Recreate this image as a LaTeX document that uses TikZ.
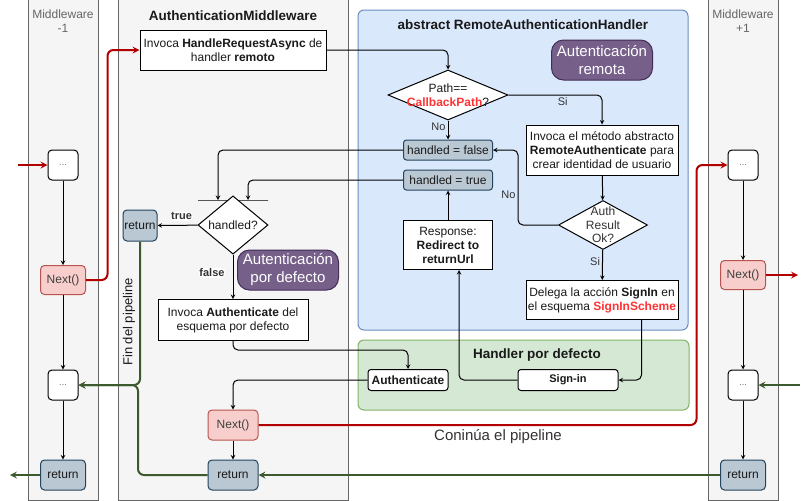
\documentclass[tikz,border=0pt]{standalone}
\usepackage{fontspec}
\setmainfont{Liberation Sans}
\usetikzlibrary{calc, shapes.geometric}

\definecolor{ink}{HTML}{1A1A1A}
\definecolor{lanegray}{HTML}{666666}
\definecolor{lanefill}{HTML}{F5F5F5}
\definecolor{bluefill}{HTML}{DAE8FC}
\definecolor{bluedraw}{HTML}{6C8EBF}
\definecolor{greenfill}{HTML}{D5E8D4}
\definecolor{greendraw}{HTML}{82B366}
\definecolor{nextfill}{HTML}{F8CECC}
\definecolor{nextdraw}{HTML}{B85450}
\definecolor{retfill}{HTML}{BAC8D3}
\definecolor{retdraw}{HTML}{23445D}
\definecolor{purpfill}{HTML}{76608A}
\definecolor{purpdraw}{HTML}{432D57}
\definecolor{callred}{HTML}{FF3333}
\definecolor{redflow}{HTML}{B20000}
\definecolor{greenflow}{HTML}{3C5A2E}

\begin{document}
\begin{tikzpicture}[x=1pt, y=-1pt, >=stealth,
    every node/.style={font=\fontsize{12}{14}\selectfont, text=ink},
    lane/.style={draw=lanegray, fill=lanefill, line width=1pt},
    lanetitle/.style={text=lanegray, align=center},
    title/.style={font=\fontsize{13.5}{16}\selectfont\bfseries},
    box/.style={draw, fill=white, line width=1pt, align=center, inner sep=0pt},
    dots/.style={draw, fill=white, line width=1pt, rounded corners=4pt, minimum width=30pt, minimum height=30pt, inner sep=0pt, font=\fontsize{9}{10}\selectfont, text=lanegray},
    nextbox/.style={draw=nextdraw, fill=nextfill, line width=1pt, rounded corners=4pt, minimum width=45pt, minimum height=29pt, inner sep=0pt, text=black!75},
    retbox/.style={draw=retdraw, fill=retfill, line width=1pt, rounded corners=4pt, minimum width=45pt, minimum height=30pt, inner sep=0pt},
    flagbox/.style={retbox, minimum width=89pt, minimum height=20pt, rounded corners=3pt},
    dia/.style={diamond, draw, fill=white, line width=1pt, inner sep=0pt},
    badge/.style={draw=purpdraw, fill=purpfill, line width=1pt, rounded corners=12pt, minimum width=101pt, minimum height=40pt, align=center, text=white, font=\fontsize{15}{18}\selectfont},
    lbl/.style={font=\fontsize{11}{12}\selectfont, inner sep=1pt, text=black!80},
    flow/.style={->, line width=1pt, rounded corners=5pt},
    redline/.style={->, draw=redflow, line width=2pt, rounded corners=6pt},
    greenline/.style={->, draw=greenflow, line width=2pt, rounded corners=6pt}]
  \useasboundingbox (0,0) rectangle (807,501);

  \draw[lane] (28,-5) rectangle (98,500);
  \draw[lane] (118,-5) rectangle (348,500);
  \draw[lane] (708,-5) rectangle (778,500);
  \draw[draw=bluedraw, fill=bluefill, line width=1pt, rounded corners=6pt] (358,10) rectangle (688,330);
  \draw[draw=greendraw, fill=greenfill, line width=1pt, rounded corners=6pt] (358,340) rectangle (689,410);

  \node[lanetitle] (mwleft) at (63,21) {Middleware\\-1};
  \node[lanetitle] (mwright) at (743,21) {Middleware\\+1};
  \node[title] (amtitle) at (233,16) {AuthenticationMiddleware};
  \node[title] (rhtitle) at (523,25) {abstract RemoteAuthenticationHandler};
  \node[title] (hdtitle) at (537,355) {Handler por defecto};

  \node[badge] (badgeremote) at (602,60) {Autenticación\\remota};
  \node[badge] (badgedefault) at (288,270) {Autenticación\\por defecto};

  \node[dots] (dots1) at (63,165) {...};
  \node[nextbox] (next1) at (63,280) {Next()};
  \node[dots] (dots2) at (63,385) {...};
  \node[retbox] (ret0) at (63,475) {return};

  \node[dots] (dots3) at (743,165) {...};
  \node[nextbox] (next3) at (743,275) {Next()};
  \node[dots] (dots4) at (743,385) {...};
  \node[retbox] (ret3) at (743,475) {return};

  \node[box, minimum width=186pt, minimum height=40pt] (invoke) at (233,50) {Invoca \textbf{HandleRequestAsync} de\\handler \textbf{remoto}};
  \node[dia, minimum width=120pt, minimum height=50pt,
    label={[align=center, text=ink]center:Path==\\\textcolor{callred}{\textbf{CallbackPath}}?}] (pathd) at (448,95) {};
  \node[flagbox] (hf) at (448,150) {handled = false};
  \node[flagbox] (ht) at (448,180) {handled = true};
  \node[box, minimum width=152pt, minimum height=50pt] (remote) at (602,150) {Invoca el método abstracto\\\textbf{RemoteAuthenticate} para\\crear identidad de usuario};
  \node[dia, minimum width=89pt, minimum height=49pt,
    label={[align=center, text=black!80, font=\fontsize{12}{13.5}\selectfont]center:Auth\\Result\\Ok?}] (authd) at (603,225) {};
  \node[box, minimum width=152pt, minimum height=39pt] (deleg) at (602,300) {Delega la acción \textbf{SignIn} en\\el esquema \textcolor{callred}{\textbf{SignInScheme}}};
  \node[box, minimum width=89pt, minimum height=49pt] (resp) at (448,245) {Response:\\\textbf{Redirect to}\\\textbf{returnUrl}};
  \node[box, rounded corners=3pt, minimum width=100pt, minimum height=21pt, font=\fontsize{11}{12}\selectfont\bfseries] (signin) at (568,380) {Sign-in};
  \node[box, rounded corners=3pt, minimum width=80pt, minimum height=21pt, font=\fontsize{12}{14}\selectfont\bfseries] (authn) at (408,380) {Authenticate};

  \node[draw, line width=1pt, minimum width=70pt, minimum height=0pt, inner sep=0pt] (joinbar) at (233,200) {};
  \node[dia, minimum width=70pt, minimum height=48pt] (hd) at (233,225) {handled?};
  \node[retbox, minimum width=34pt, minimum height=31pt] (ret1) at (140,225.5) {return};
  \node[box, minimum width=150pt, minimum height=41pt] (defbox) at (233,320) {Invoca \textbf{Authenticate} del\\esquema por defecto};
  \node[nextbox, minimum width=50pt, minimum height=30pt] (next2) at (233,425) {Next()};
  \node[retbox, minimum width=50pt] (ret2) at (233,475) {return};

  \node[rotate=90, font=\fontsize{13}{15}\selectfont] (fin) at (129,322) {Fin del pipeline};
  \node[font=\fontsize{15}{18}\selectfont, text=black!80] (cont) at (498,437) {Coninúa el pipeline};

  \coordinate (redin) at (18,165);
  \coordinate (redout) at (798,275);
  \coordinate (greenin) at (800,385);
  \coordinate (greenout) at (10,475);
  \coordinate (merge) at (138,385);

  \draw[flow] (dots1) -- (next1);
  \draw[flow] (next1) -- (dots2);
  \draw[flow] (dots2) -- (ret0);
  \draw[flow] (dots3) -- (next3);
  \draw[flow] (next3) -- (dots4);
  \draw[flow] (dots4) -- (ret3);

  \draw[flow] (invoke) -| (pathd);
  \draw[flow] (pathd) -| (remote) node[lbl, pos=0.29, below=1pt] {Si};
  \draw[flow] (pathd) -- (hf) node[lbl, pos=0.35, left=1pt] {No};
  \draw[flow] (remote) -- (authd);
  \draw[flow] (authd) -| ($(hf.east)+(25,0)$) node[lbl, pos=0.7, left=1pt] {No} -- (hf);
  \draw[flow] (authd) -- (deleg) node[lbl, pos=0.39, left=1pt] {Si};
  \draw[flow] ([xshift=-37pt]deleg.south east) |- (signin);
  \draw[flow] (signin) -| ([xshift=11pt]resp.south);
  \draw[flow] (resp) -- (ht);
  \draw[flow] (hf) -| ([xshift=-15pt]joinbar.center);
  \draw[flow] (ht) -| ([xshift=15pt]joinbar.center);
  \draw[flow] (hd) -- (ret1) node[lbl, pos=0.4, above=4pt, fill=white, font=\fontsize{11}{12}\selectfont\bfseries] {true};
  \draw[flow] (hd) -- (defbox) node[lbl, pos=0.41, left=7pt, fill=white, font=\fontsize{11}{12}\selectfont\bfseries] {false};
  \draw[flow] (defbox.south) -- ++(0,9) -| (authn);
  \draw[flow] (authn) -| (next2);
  \draw[flow] (next2) -- (ret2);

  \draw[redline] (redin) -- (dots1);
  \draw[redline] (next1) -| ($(invoke.west)+(-32,0)$) -- (invoke);
  \draw[redline] (next2) -| ($(dots3.west)+(-31,0)$) -- (dots3);
  \draw[redline] (next3) -- (redout);

  \draw[greenline] (ret1) |- (dots2);
  \draw[greenline] (ret2) -| (merge) -- (dots2);
  \draw[greenline] (ret3) -- (ret2);
  \draw[greenline] (greenin) -- (dots4);
  \draw[greenline] (ret0) -- (greenout);
\end{tikzpicture}
\end{document}
